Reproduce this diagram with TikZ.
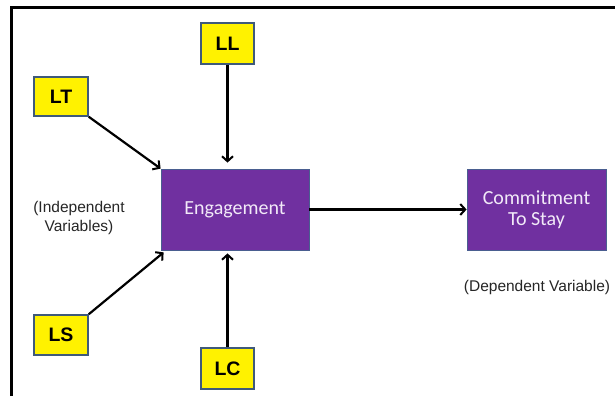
\documentclass[tikz,border=0pt]{standalone}
\usepackage{fontspec}
\setmainfont{Liberation Sans}
\newfontfamily\calib{Carlito}
\usetikzlibrary{arrows.meta}
\definecolor{purp}{HTML}{7030A0}
\definecolor{pedge}{HTML}{4A5E90}
\definecolor{yedge}{HTML}{3F5A7A}
\definecolor{ptext}{HTML}{F2EAF8}
\tikzset{
  ybox/.style={draw=yedge, line width=1.6pt, fill=yellow, inner sep=0pt,
    font=\fontsize{19.5}{22}\selectfont\bfseries, text=black},
  pbox/.style={draw=pedge, line width=0.8pt, fill=purp, inner sep=0pt,
    text=ptext, align=center, font=\calib\fontsize{20}{21}\selectfont},
  arr/.style={draw=black, line width=2.2pt, -{Straight Barb[length=5pt,width=11pt,line width=2pt]}},
  note/.style={align=center, font=\fontsize{15.5}{18.5}\selectfont, text=black!85}
}
\begin{document}
\begin{tikzpicture}[x=1pt,y=-1pt]
\useasboundingbox (0,0) rectangle (615,396);
\fill[white] (0,0) rectangle (615,396);
\draw[line width=3pt] (11.5,396) -- (11.5,8) -- (615,8);
\node[pbox, minimum width=148pt, minimum height=81pt] (E) at (235,209.5) {Engagement};
\node[pbox, minimum width=139pt, minimum height=81pt] (C) at (536.5,209.5) {Commitment\\To Stay};
\node[ybox, minimum width=53pt, minimum height=41pt] (LL) at (227.5,43.5) {LL};
\node[ybox, minimum width=54pt, minimum height=39pt] (LT) at (61,96.5) {LT};
\node[ybox, minimum width=54pt, minimum height=40pt] (LS) at (61,335) {LS};
\node[ybox, minimum width=53pt, minimum height=41pt] (LC) at (227.5,368.5) {LC};
\node[note] (IV) at (79,218) {(Independent\\Variables)};
\node[note] (DV) at (537,287) {(Dependent Variable)};
\draw[arr] (LT.south east) -- (E.north west);
\draw[arr, shorten >=6pt] (LL.south) -- (LL.south |- E.north);
\draw[arr] (LS.north east) -- ([xshift=3pt,yshift=-2pt]E.south west);
\draw[arr, shorten >=3pt] (LC.north) -- (LC.north |- E.south);
\draw[arr] (E.east) -- (C.west);
\end{tikzpicture}
\end{document}
